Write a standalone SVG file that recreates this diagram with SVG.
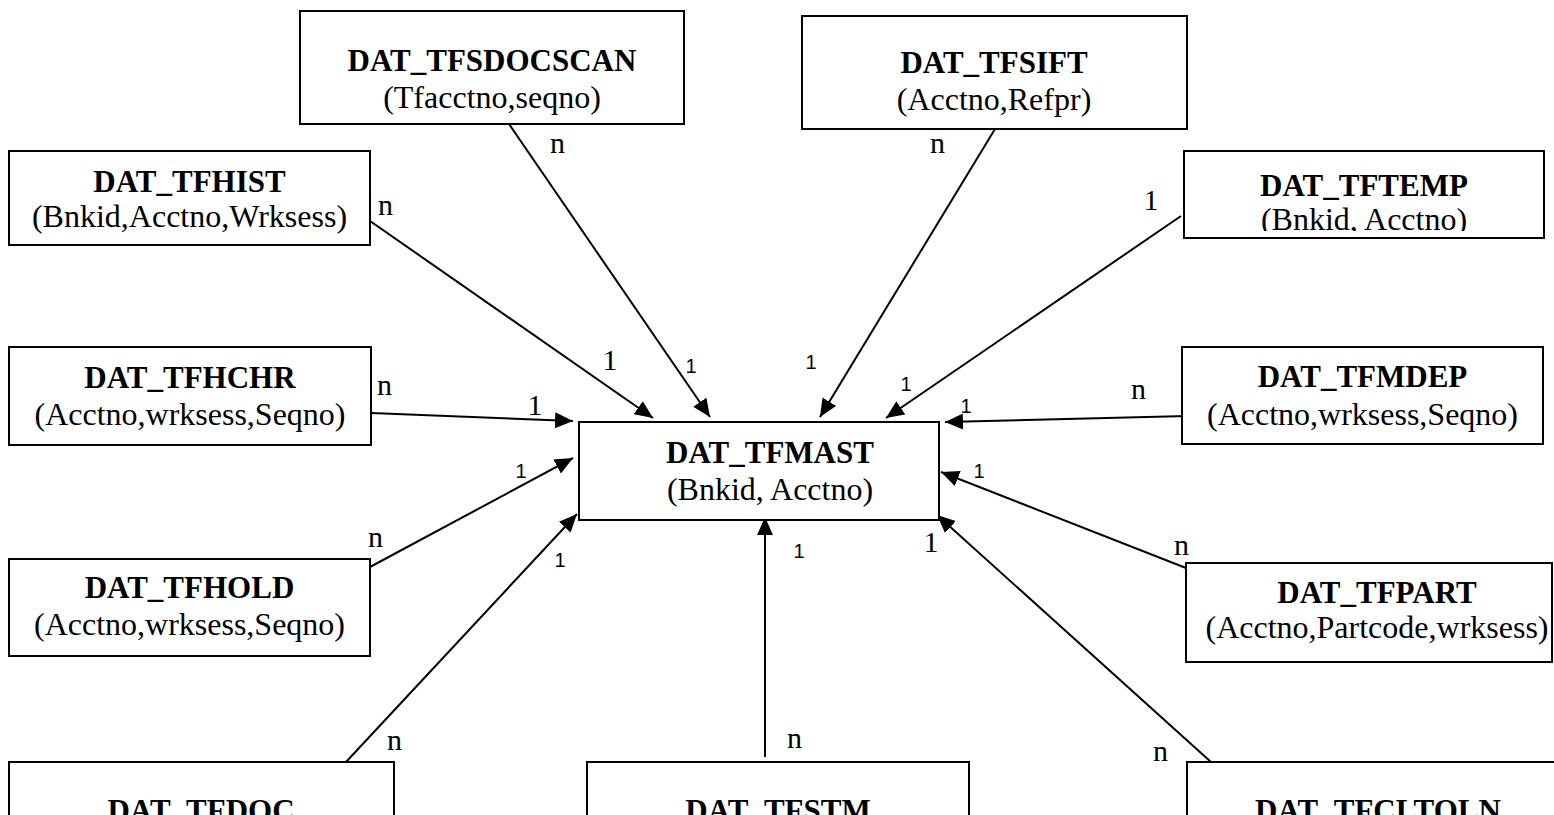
<svg xmlns="http://www.w3.org/2000/svg" width="1554" height="815" viewBox="0 0 1554 815">
<style>
.box{fill:#fff;stroke:#000;stroke-width:2}
.t{font-family:"Liberation Serif","Times New Roman",serif;font-weight:bold;font-size:31px;text-anchor:middle;fill:#000}
.s{font-family:"Liberation Serif","Times New Roman",serif;font-size:32px;text-anchor:middle;fill:#000}
.c{stroke:#000;stroke-width:2;fill:none}
.a{marker-end:url(#arr)}
.n{font-family:"Liberation Serif","Times New Roman",serif;font-size:30px;fill:#000}
.b1{font-family:"Liberation Serif","Times New Roman",serif;font-size:30px;text-anchor:middle;fill:#000}
.s1{font-family:"Liberation Sans",Arial,sans-serif;font-size:20px;text-anchor:middle;fill:#000}
</style>
<defs>
<marker id="arr" markerUnits="userSpaceOnUse" markerWidth="18" markerHeight="16" viewBox="0 0 18 16" refX="18" refY="8" orient="auto"><path d="M0,0 L18,8 L0,16 z" fill="#000"/></marker>
<clipPath id="clipTemp"><rect x="1184" y="151" width="360" height="80"/></clipPath>
</defs>
<rect width="1554" height="815" fill="#fff"/>
<g id="connectors">
<line class="c a" x1="370" y1="221" x2="653" y2="418"/>
<line class="c a" x1="509" y1="124" x2="710" y2="417"/>
<line class="c a" x1="995" y1="129" x2="820" y2="417"/>
<line class="c a" x1="1181" y1="216" x2="886" y2="418"/>
<line class="c a" x1="1187" y1="416" x2="945" y2="422"/>
<line class="c a" x1="1186" y1="568" x2="941" y2="472"/>
<line class="c a" x1="1211" y1="762" x2="937" y2="515"/>
<line class="c a" x1="765" y1="757" x2="765" y2="517"/>
<line class="c a" x1="346" y1="762" x2="577" y2="514"/>
<line class="c a" x1="370" y1="567" x2="573" y2="458"/>
<line class="c a" x1="371" y1="413" x2="573" y2="421"/>
<text class="n" x="378" y="215">n</text>
<text class="n" x="550" y="153">n</text>
<text class="n" x="930" y="153">n</text>
<text class="b1" x="1151" y="210">1</text>
<text class="n" x="377" y="395">n</text>
<text class="n" x="1131" y="399">n</text>
<text class="n" x="368" y="547">n</text>
<text class="n" x="1174" y="555">n</text>
<text class="n" x="387" y="750">n</text>
<text class="n" x="787" y="748">n</text>
<text class="n" x="1153" y="761">n</text>
<text class="b1" x="610" y="370">1</text>
<text class="b1" x="535" y="415">1</text>
<text class="b1" x="931" y="552">1</text>
<text class="s1" x="691" y="373">1</text>
<text class="s1" x="811" y="369">1</text>
<text class="s1" x="906" y="391">1</text>
<text class="s1" x="966" y="413">1</text>
<text class="s1" x="521" y="478">1</text>
<text class="s1" x="979" y="478">1</text>
<text class="s1" x="560" y="567">1</text>
<text class="s1" x="799" y="558">1</text>
</g>
<g id="node-tfsdocscan"><rect class="box" x="300" y="11" width="384" height="113"/><text class="t" x="492" y="71">DAT_TFSDOCSCAN</text><text class="s" x="492" y="108">(Tfacctno,seqno)</text></g>
<g id="node-tfsift"><rect class="box" x="802" y="16" width="385" height="113"/><text class="t" x="994" y="73">DAT_TFSIFT</text><text class="s" x="994" y="110">(Acctno,Refpr)</text></g>
<g id="node-tfhist"><rect class="box" x="9" y="151" width="361" height="94"/><text class="t" x="189.5" y="192">DAT_TFHIST</text><text class="s" x="189.5" y="227">(Bnkid,Acctno,Wrksess)</text></g>
<g id="node-tftemp"><rect class="box" x="1184" y="151" width="360" height="87"/><text class="t" x="1364" y="196">DAT_TFTEMP</text><text class="s" x="1364" y="230" clip-path="url(#clipTemp)">(Bnkid, Acctno)</text></g>
<g id="node-tfhchr"><rect class="box" x="9" y="347" width="362" height="98"/><text class="t" x="190" y="388">DAT_TFHCHR</text><text class="s" x="190" y="425">(Acctno,wrksess,Seqno)</text></g>
<g id="node-tfmdep"><rect class="box" x="1182" y="347" width="361" height="97"/><text class="t" x="1362.5" y="387">DAT_TFMDEP</text><text class="s" x="1362.5" y="425">(Acctno,wrksess,Seqno)</text></g>
<g id="node-tfmast"><rect class="box" x="579" y="422" width="360" height="98"/><text class="t" x="770" y="463">DAT_TFMAST</text><text class="s" x="770" y="500">(Bnkid, Acctno)</text></g>
<g id="node-tfhold"><rect class="box" x="9" y="559" width="361" height="97"/><text class="t" x="189.5" y="598">DAT_TFHOLD</text><text class="s" x="189.5" y="635">(Acctno,wrksess,Seqno)</text></g>
<g id="node-tfpart"><rect class="box" x="1186" y="563" width="366" height="99"/><text class="t" x="1377" y="603">DAT_TFPART</text><text class="s" x="1377" y="638">(Acctno,Partcode,wrksess)</text></g>
<g id="node-tfdoc"><rect class="box" x="9" y="762" width="385" height="80"/><text class="t" x="201" y="821">DAT_TFDOC</text></g>
<g id="node-tfstm"><rect class="box" x="587" y="762" width="382" height="80"/><text class="t" x="778" y="821">DAT_TFSTM</text></g>
<g id="node-tfcltoln"><rect class="box" x="1187" y="762" width="383" height="80"/><text class="t" x="1378" y="821">DAT_TFCLTOLN</text></g>
</svg>
